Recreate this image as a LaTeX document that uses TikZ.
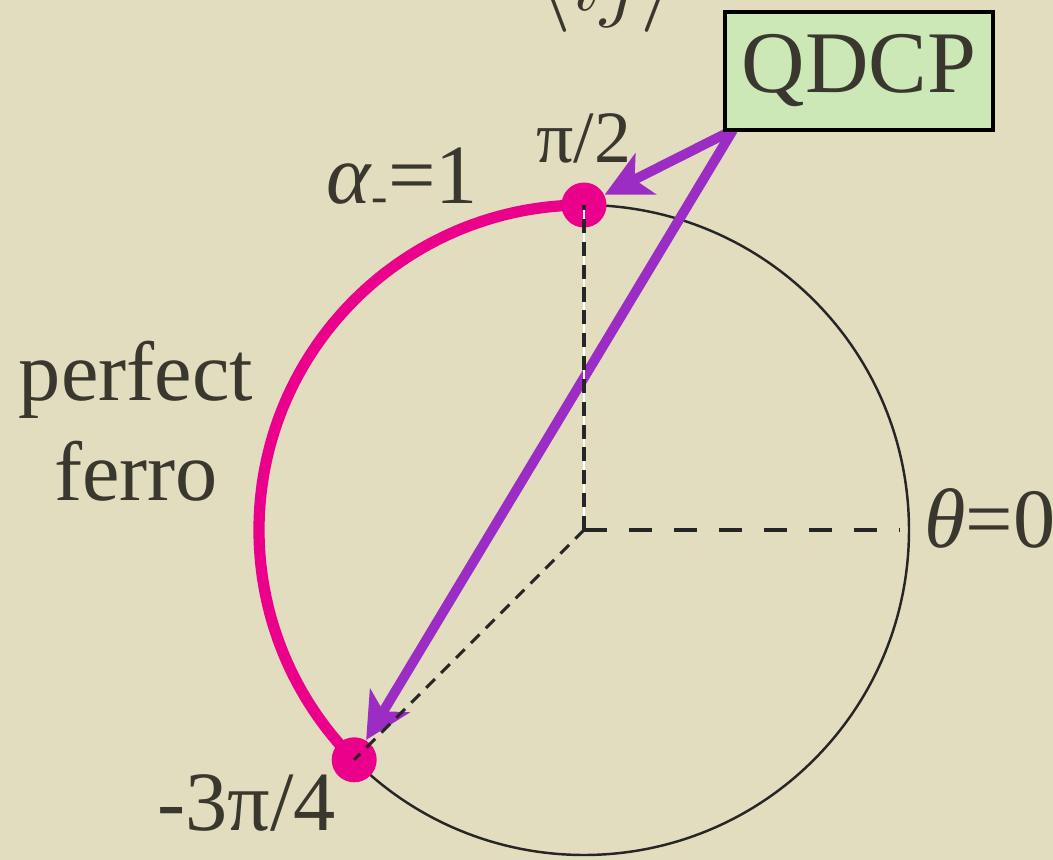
\documentclass[tikz,border=0pt]{standalone}
\usepackage{fontspec}
\setmainfont{Liberation Serif}
\usetikzlibrary{arrows.meta,calc}
\definecolor{bg}{RGB}{226,221,191}
\definecolor{ink}{RGB}{58,56,46}
\definecolor{pinkc}{RGB}{234,0,138}
\definecolor{purp}{RGB}{155,44,196}
\definecolor{boxg}{RGB}{204,232,182}
\begin{document}
\begin{tikzpicture}[
  lbl/.style={text=ink, font=\fontsize{24}{28}\selectfont, inner sep=0pt, anchor=base},
  small/.style={lbl, font=\fontsize{21}{24}\selectfont},
  dot/.style={circle, fill=pinkc, minimum size=0.45cm, inner sep=0pt},
  parrow/.style={draw=purp, line width=2.8pt, -{Stealth[length=13pt,width=13pt,inset=3.5pt]}},
  ring/.style={draw=black!85, line width=0.7pt},
  ferroarc/.style={draw=pinkc, line width=3.2pt},
  hdash/.style={draw=black!85, line width=1.2pt, dash pattern=on 6.5pt off 6.3pt},
  vdash/.style={draw=black!85, line width=1pt, dash pattern=on 4pt off 2.5pt},
  ddash/.style={draw=black!85, line width=0.9pt, dash pattern=on 3.5pt off 2.5pt},
  qbox/.style={draw=black, line width=0.9pt, fill=boxg, text=ink, font=\fontsize{25}{29}\selectfont, minimum width=2.68cm, minimum height=1.18cm, inner sep=0pt}
]
\fill[bg] (0,0) rectangle (10.53,-8.60);
\useasboundingbox (0,0) rectangle (10.53,-8.60);

\coordinate (C) at (5.84,-5.30);
\coordinate (E) at (9.00,-5.30);
\coordinate (S) at (7.33,-1.30);

% circle
\draw[ring] (C) ++(-135:3.25) arc[start angle=-135, end angle=90, radius=3.25];
\draw[ferroarc] (C) ++(90:3.25) arc[start angle=90, end angle=225, radius=3.25];

% dots
\node[dot] (T) at ($(C)+(90:3.25)$) {};
\node[dot] (B) at ($(C)+(225:3.25)$) {};

% arrows
\draw[parrow] (S) -- (T);
\draw[parrow] (S) -- (B);

% dashed lines
\draw[white, line width=0.5pt] (C) -- (T.center);
\draw[vdash] (C) -- (T.center);
\draw[hdash] (C) -- (E);
\draw[ddash] (C) -- (B.center);

% box
\node[qbox] (q) at (8.59,-0.71) {QDCP};

% labels
\node[lbl] (ij) at (6.06,-0.10) {$\langle ij\rangle$};
\node[small] (pi2) at (5.84,-1.62) {π/2};
\node[lbl] (al) at (4.02,-2.03) {\textit{α}\raisebox{-0.25ex}{\fontsize{14}{16}\selectfont -}=1};
\node[lbl] (pf) at (1.36,-4.00) {perfect};
\node[lbl] (fe) at (1.36,-5.00) {ferro};
\node[lbl] (th) at (9.90,-5.47) {\textit{θ}=0};
\node[lbl] (m34) at (2.465,-8.30) {-3π/4};
\end{tikzpicture}
\end{document}
